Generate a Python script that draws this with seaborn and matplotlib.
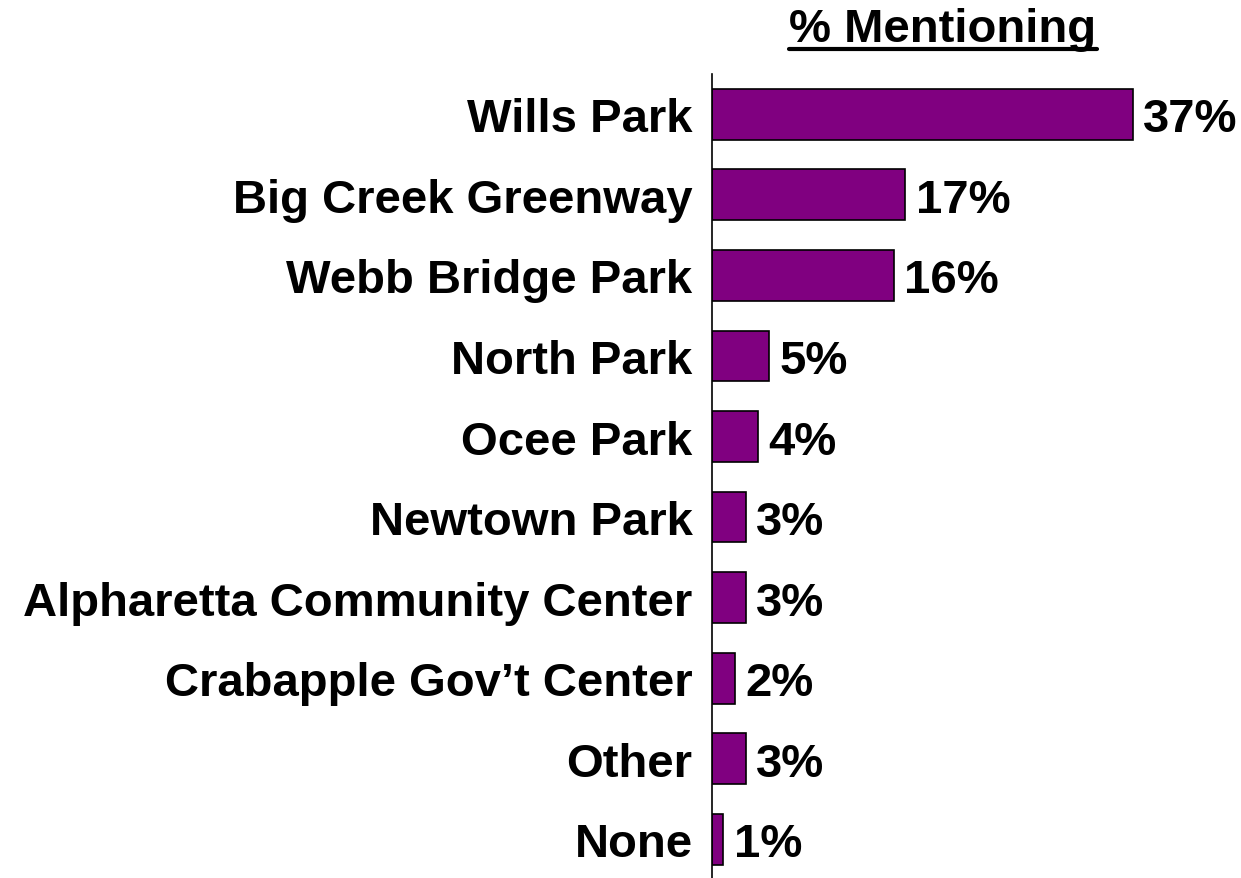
import matplotlib
matplotlib.use("Agg")
import matplotlib.pyplot as plt
import seaborn as sns
import pandas as pd
from matplotlib.lines import Line2D

# Données
parks = ["Wills Park", "Big Creek Greenway", "Webb Bridge Park", "North Park",
         "Ocee Park", "Newtown Park", "Alpharetta Community Center",
         "Crabapple Gov\u2019t Center", "Other", "None"]
pct = [37, 17, 16, 5, 4, 3, 3, 2, 3, 1]
title = "% Mentioning"

df = pd.DataFrame({"park": parks, "pct": pct})

sns.set_style("white")
plt.rcParams["font.family"] = ["Liberation Sans", "DejaVu Sans"]
plt.rcParams["font.weight"] = "bold"
plt.rcParams["text.color"] = "black"
plt.rcParams["ytick.labelcolor"] = "black"

FS = 34

fig = plt.figure(figsize=(12.41, 8.79), dpi=100)
W, H = 1241, 879
ax = fig.add_axes([712 / W, 0, (W - 712) / W, (H - 75) / H])

sns.barplot(data=df, x="pct", y="park", orient="h", color="#800080",
            saturation=1, width=0.63, edgecolor="black", linewidth=1.2, ax=ax)

ax.set_xlim(0, (W - 712) / 11.38)
ax.set_ylim(9.48, -0.5)
ax.set_xlabel("")
ax.set_ylabel("")
ax.set_xticks([])
for s in ["top", "right", "bottom"]:
    ax.spines[s].set_visible(False)
ax.spines["left"].set_linewidth(1.2)
ax.spines["left"].set_color("black")
ax.tick_params(axis="y", length=0, pad=14, labelsize=FS)
for lab in ax.get_yticklabels():
    lab.set_fontweight("bold")
    lab.set_verticalalignment("center_baseline")

for i, v in enumerate(pct):
    ax.text(v + 0.9, i, f"{v}%", va="center_baseline", ha="left",
            fontsize=FS, fontweight="bold")

t = fig.text(943 / W, 1 - 42 / H, title, ha="center", va="baseline",
             fontsize=FS, fontweight="bold")
fig.canvas.draw()
bb = t.get_window_extent()
yline = 1 - 50 / H
fig.add_artist(Line2D([bb.x0 / W, bb.x1 / W], [yline, yline],
                      color="black", linewidth=3, transform=fig.transFigure))

fig.savefig("out.png", dpi=100)
